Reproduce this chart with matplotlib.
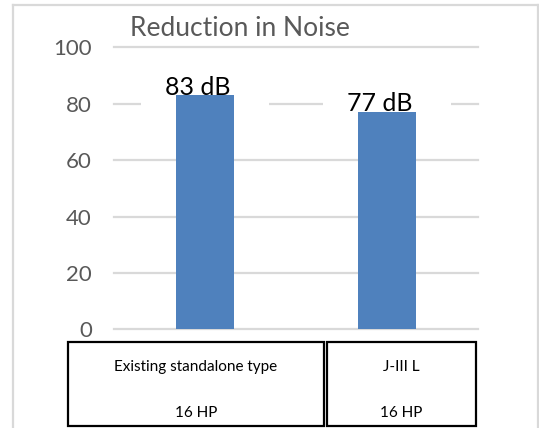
import matplotlib
matplotlib.use("Agg")
import matplotlib.pyplot as plt
from matplotlib.patches import Rectangle
from matplotlib.lines import Line2D

# datos del grafico
categorias = ["Existing standalone type", "J-III L"]
potencia = ["16 HP", "16 HP"]
ruido_db = [83, 77]
etiquetas = ["83 dB", "77 dB"]
ticks_y = [0, 20, 40, 60, 80, 100]

plt.rcParams['font.family'] = ['Lato', 'DejaVu Sans']

W, H = 539, 428
fig = plt.figure(figsize=(W / 100, H / 100), dpi=100)
fig.patch.set_facecolor("white")

# marco exterior gris
gris_marco = "#D9D9D9"
fig.add_artist(Line2D([13 / W, 13 / W], [0, 1 - 5 / H], color=gris_marco, lw=1.6, transform=fig.transFigure))
fig.add_artist(Line2D([13 / W, 538 / W], [1 - 5 / H, 1 - 5 / H], color=gris_marco, lw=1.6, transform=fig.transFigure))
fig.add_artist(Line2D([538 / W, 538 / W], [0, 1 - 5 / H], color=gris_marco, lw=1.6, transform=fig.transFigure))

# area del grafico
x0, x1 = 114, 478
y0, y1 = 329.3, 47.3
ax = fig.add_axes([x0 / W, 1 - y0 / H, (x1 - x0) / W, (y0 - y1) / H])
ax.set_xlim(-0.5, len(categorias) - 0.5)
ax.set_ylim(0, 100)
ax.set_yticks(ticks_y)
ax.set_xticks([])
for s in ax.spines.values():
    s.set_visible(False)
ax.tick_params(axis="y", length=0, pad=16, labelsize=16, labelcolor="#595959")
for t in ticks_y:
    ax.axhline(t, color="#D9D9D9", lw=1.6, zorder=0.5, clip_on=False)

x = list(range(len(categorias)))
for i, v in enumerate(ruido_db):
    # fondo blanco de la etiqueta (corta la linea de la rejilla)
    ax.add_patch(Rectangle((i - 0.35, v - 7), 0.7, 14, facecolor="white", edgecolor="none", zorder=1))
ax.bar(x, ruido_db, width=0.315, color="#4F81BD", zorder=2)
for i, v in enumerate(ruido_db):
    ax.annotate(etiquetas[i], (i, v), xytext=(-5, 0.5), textcoords="offset points",
                ha="center", va="baseline", fontsize=18, color="black", zorder=3)

# titulo
fig.text(130 / W, 1 - 28 / H, "Reduction in Noise", fontsize=19, color="#595959", ha="left", va="center")

# tabla de categorias
cajas = [(68, 324), (326.7, 476)]
top, bot = 341.7, 426
for (a, b), cat, hp in zip(cajas, categorias, potencia):
    fig.add_artist(Rectangle((a / W, 1 - bot / H), (b - a) / W, (bot - top) / H, fill=False,
                             edgecolor="black", lw=1.6, transform=fig.transFigure))
    cx = (a + b) / 2 / W
    fig.text(cx, 1 - 366.7 / H, cat, fontsize=11, ha="center", va="center")
    fig.text(cx, 1 - 413 / H, hp, fontsize=11, ha="center", va="center")

plt.savefig("out.png", dpi=100)
